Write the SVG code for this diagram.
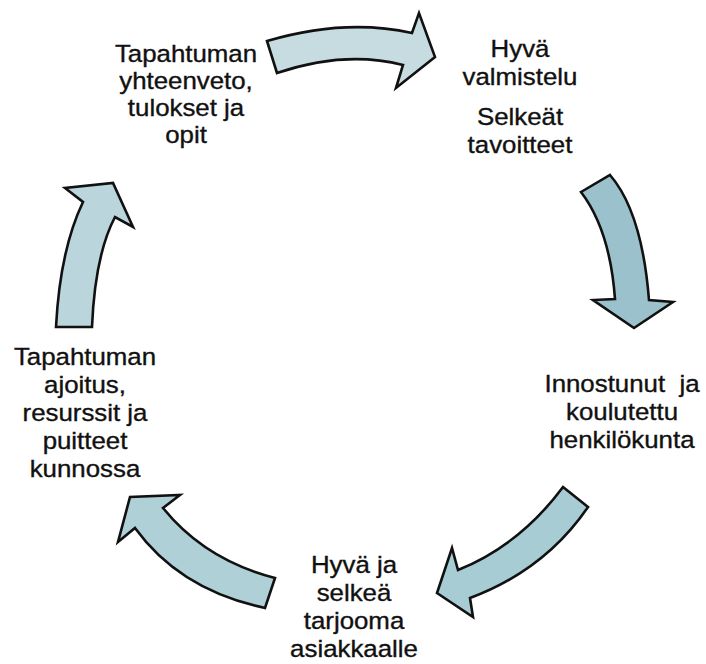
<svg xmlns="http://www.w3.org/2000/svg" width="706" height="664" viewBox="0 0 706 664">
<style>
  .lbl { font-family: "Liberation Sans", Arial, sans-serif; font-size: 23.5px; fill: #111; stroke: #111; stroke-width: 0.35; text-anchor: middle; }
  .arr { stroke: #111; stroke-width: 2.6; stroke-linejoin: miter; }
</style>
<rect width="706" height="664" fill="#fff"/>
<g id="connectors">
  <path class="arr" fill="#c6dce1" d="M267,41 Q345,18 412,33 L419,13 L435,57 L396,88 L403,65 Q345,50 277,73 Z"/>
  <path class="arr" fill="#9bc2cc" d="M581,192 L610,175 Q642,212 649,300 L673,302 L634,328 L593,300 L615,299 Q610,230 581,192 Z"/>
  <path class="arr" fill="#a8ccd4" d="M563,487 L588,507 Q545,570 470,598 L473,617 L437,593 L452,548 L458,570 Q520,545 563,487 Z"/>
  <path class="arr" fill="#b0d0d7" d="M275,578 L265,608 Q180,590 135,528 L118,542 L130,497 L180,495 L163,508 Q205,560 275,578 Z"/>
  <path class="arr" fill="#bad6dc" d="M56,327 Q60,250 83,202 L65,188 L113,183 L133,227 L115,217 Q95,255 92,327 Z"/>
</g>
<g id="node-yhteenveto" transform="translate(186 0) scale(1.1 1)">
  <text class="lbl" x="0" y="62">Tapahtuman</text>
  <text class="lbl" x="0" y="89">yhteenveto,</text>
  <text class="lbl" x="0" y="116">tulokset ja</text>
  <text class="lbl" x="0" y="143">opit</text>
</g>
<g id="node-valmistelu" transform="translate(520 0) scale(1.1 1)">
  <text class="lbl" x="0" y="57">Hyvä</text>
  <text class="lbl" x="0" y="85">valmistelu</text>
  <text class="lbl" x="0" y="125">Selkeät</text>
  <text class="lbl" x="0" y="153">tavoitteet</text>
</g>
<g id="node-henkilokunta" transform="translate(622 0) scale(1.1 1)">
  <text class="lbl" x="0" y="392" xml:space="preserve">Innostunut  ja</text>
  <text class="lbl" x="0" y="420">koulutettu</text>
  <text class="lbl" x="0" y="448">henkilökunta</text>
</g>
<g id="node-tarjooma" transform="translate(354 0) scale(1.1 1)">
  <text class="lbl" x="0" y="573">Hyvä ja</text>
  <text class="lbl" x="0" y="601">selkeä</text>
  <text class="lbl" x="0" y="629">tarjooma</text>
  <text class="lbl" x="0" y="657">asiakkaalle</text>
</g>
<g id="node-ajoitus" transform="translate(85 0) scale(1.1 1)">
  <text class="lbl" x="0" y="365">Tapahtuman</text>
  <text class="lbl" x="0" y="393">ajoitus,</text>
  <text class="lbl" x="0" y="421">resurssit ja</text>
  <text class="lbl" x="0" y="449">puitteet</text>
  <text class="lbl" x="0" y="477">kunnossa</text>
</g>
</svg>
